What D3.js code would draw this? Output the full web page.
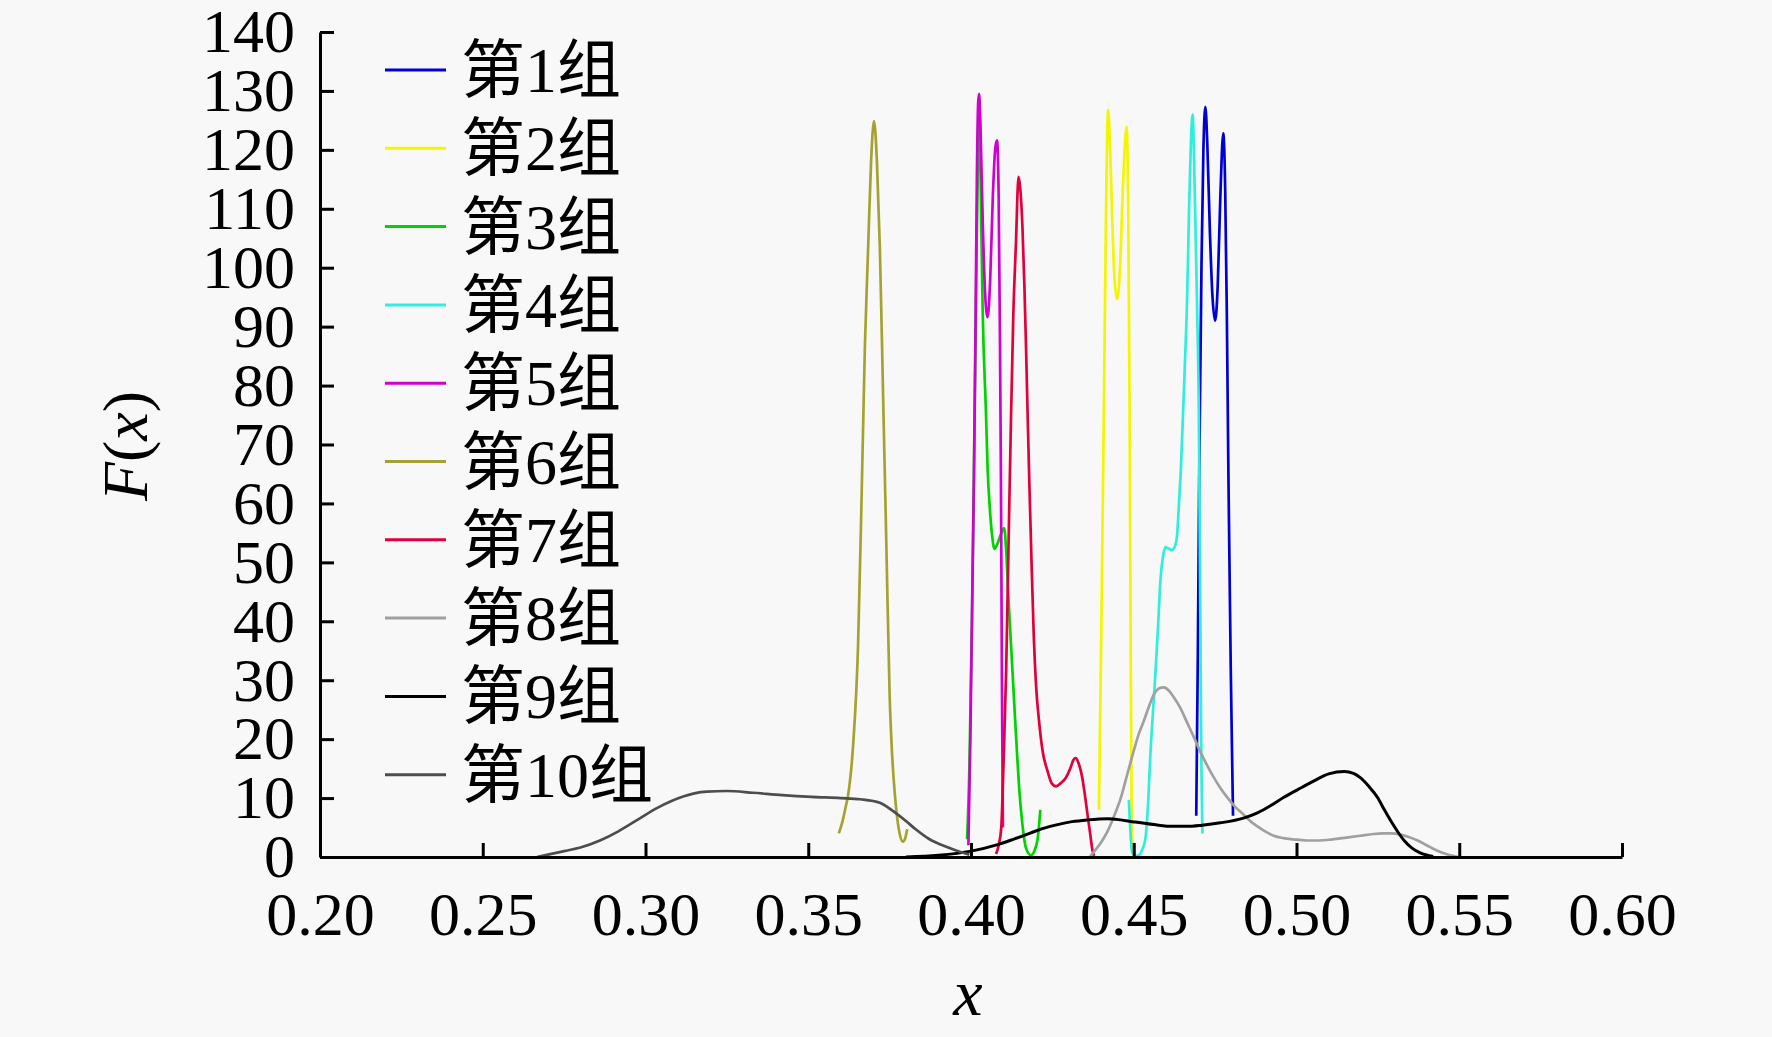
<!DOCTYPE html>
<html><head><meta charset="utf-8">
<script src="https://cdn.jsdelivr.net/npm/d3@7"></script>
<style>html,body{margin:0;padding:0;background:#f8f8f8;} svg{display:block;}</style>
</head><body>
<svg id="chart" width="1772" height="1037"></svg>
<script>
// ---- data ----
const seriesNames = ["第1组","第2组","第3组","第4组","第5组","第6组","第7组","第8组","第9组","第10组"];
const xTickValues = [0.20,0.25,0.30,0.35,0.40,0.45,0.50,0.55,0.60];
const yTickValues = [0,10,20,30,40,50,60,70,80,90,100,110,120,130,140];

const s1 = [[0.4692,7],[0.4697,35],[0.4701,64],[0.4708,100],[0.4714,120],[0.4720,127.3],[0.4726,121],[0.4734,106],[0.4742,95],[0.4750,91],[0.4758,97],[0.4766,112],[0.4775,122.8],[0.4781,113],[0.4786,92],[0.4791,64],[0.4798,32],[0.4805,7]];
const s2 = [[0.4393,8],[0.4400,37],[0.4408,75],[0.4415,110],[0.4421,126.8],[0.4427,121],[0.4434,108],[0.4441,98],[0.4449,94.7],[0.4457,99],[0.4467,114],[0.4478,123.9],[0.4483,110],[0.4487,78],[0.4490,42],[0.4493,12],[0.4496,1]];
const s3 = [[0.3988,3],[0.3995,15],[0.4003,40],[0.4010,70],[0.4017,102],[0.4022,120],[0.4026,126.5],[0.4031,109.5],[0.4036,92.4],[0.4046,75.4],[0.4051,66],[0.4058,59],[0.4065,54.5],[0.4072,52.3],[0.4080,53],[0.4090,54.5],[0.4102,55.8],[0.4108,52],[0.4115,44],[0.4124,35],[0.4133,25.9],[0.4141,18],[0.4148,11.7],[0.4158,5.5],[0.4169,1.5],[0.4184,0.3],[0.4196,1.2],[0.4205,3.2],[0.4213,8]];
const s4 = [[0.4485,9.7],[0.4490,4],[0.4495,0.8],[0.4505,0.2],[0.4515,0.3],[0.4528,1.5],[0.4536,3.2],[0.4544,9],[0.4551,17.4],[0.4559,24.5],[0.4567,31.6],[0.4575,39.5],[0.4582,47],[0.4590,51],[0.4597,52.6],[0.4608,52.3],[0.4618,52.1],[0.4627,52.8],[0.4633,54.5],[0.4639,60],[0.4645,66],[0.4656,82],[0.4664,95],[0.4670,110],[0.4676,122],[0.4681,126],[0.4687,114],[0.4694,95],[0.4700,75],[0.4705,37],[0.4708,15],[0.4711,4]];
const s5 = [[0.3992,2],[0.3998,20],[0.4004,45],[0.4009,64],[0.4014,90],[0.4018,115],[0.4022,128],[0.4025,129.5],[0.4029,124],[0.4036,108],[0.4043,96],[0.4051,91.6],[0.4059,98],[0.4067,112],[0.4075,120.5],[0.4080,121.6],[0.4085,112],[0.4089,88],[0.4092,64],[0.4095,30],[0.4098,5]];
const s6 = [[0.3594,4],[0.3605,6],[0.3615,8.5],[0.3623,10.7],[0.3638,19.1],[0.3653,35.9],[0.3664,61.3],[0.3674,86.6],[0.3684,103.4],[0.3693,118],[0.3702,124.9],[0.3711,118],[0.3720,103.4],[0.3730,78.1],[0.3740,52.8],[0.3750,27.5],[0.3758,17],[0.3766,10.7],[0.3781,3.9],[0.3791,2.6],[0.3798,3.2],[0.3804,4.7]];
const s7 = [[0.4077,0.5],[0.4085,2],[0.4093,5],[0.4100,16],[0.4108,31.6],[0.4115,52],[0.4122,72],[0.4130,92],[0.4138,104],[0.4146,115.4],[0.4152,113],[0.4158,107],[0.4164,97],[0.4169,86.7],[0.4174,75],[0.4179,64],[0.4186,50],[0.4193,37.3],[0.4200,29],[0.4209,23.1],[0.4220,18],[0.4235,14.6],[0.4248,12.5],[0.4261,12],[0.4275,12.5],[0.4291,13.4],[0.4305,15],[0.4315,16.5],[0.4322,16.8],[0.4330,16],[0.4342,13.4],[0.4350,10.5],[0.4358,7.2],[0.4366,4],[0.4373,1.2],[0.4378,0.2]];
const s8 = [[0.4365,0],[0.4378,0.9],[0.4400,2.5],[0.4419,4.3],[0.4440,7],[0.4460,10],[0.4480,14],[0.4500,18],[0.4515,20.8],[0.4531,23.1],[0.4547,25.6],[0.4562,27.6],[0.4577,28.6],[0.4592,28.8],[0.4607,28.3],[0.4623,27.1],[0.4643,25.3],[0.4664,22.8],[0.4685,20.3],[0.4705,17.8],[0.4725,15.6],[0.4745,13.6],[0.4765,11.8],[0.4786,10.2],[0.4810,8.6],[0.4837,7.2],[0.4860,6],[0.4880,5.2],[0.4905,4.3],[0.4930,3.6],[0.4960,3.2],[0.4990,3.0],[0.5030,2.8],[0.5071,2.8],[0.5110,3.0],[0.5153,3.3],[0.5195,3.6],[0.5236,3.9],[0.5265,4.0],[0.5290,4.0],[0.5320,3.8],[0.5345,3.4],[0.5372,2.8],[0.5400,2.0],[0.5428,1.2],[0.5455,0.6],[0.5480,0.2],[0.5496,0]];
const s9 = [[0.3800,0],[0.3900,0.3],[0.4000,1.0],[0.4082,2.1],[0.4130,3.0],[0.4184,4.1],[0.4225,4.9],[0.4266,5.5],[0.4310,6.0],[0.4358,6.3],[0.4420,6.5],[0.4460,6.3],[0.4496,6.0],[0.4562,5.5],[0.4620,5.2],[0.4664,5.2],[0.4710,5.4],[0.4766,5.8],[0.4837,6.6],[0.4880,7.5],[0.4920,8.7],[0.4960,10.1],[0.5016,11.8],[0.5060,13.1],[0.5099,14.1],[0.5147,14.5],[0.5175,14.2],[0.5195,13.5],[0.5222,12],[0.5249,10.1],[0.5270,8],[0.5290,6.1],[0.5312,4.2],[0.5332,2.7],[0.5355,1.5],[0.5380,0.7],[0.5420,0.1]];
const s10 = [[0.2667,0],[0.2700,0.4],[0.2750,1.0],[0.2800,1.6],[0.2860,2.8],[0.2918,4.4],[0.2975,6.3],[0.3035,8.3],[0.3080,9.5],[0.3118,10.3],[0.3150,10.8],[0.3188,11.1],[0.3250,11.2],[0.3330,10.9],[0.3420,10.5],[0.3510,10.2],[0.3600,10.0],[0.3660,9.8],[0.3720,9.2],[0.3765,7.6],[0.3800,6.1],[0.3830,4.7],[0.3870,3.1],[0.3930,1.6],[0.3970,0.8],[0.3995,0.4]];

const seriesData = [s1,s2,s3,s4,s5,s6,s7,s8,s9,s10];
const seriesColors = ["#0000d0","#f5f500","#00d400","#30eedc","#d000d0","#a6a232","#e0003c","#a0a0a0","#000000","#4d4d4d"];

// ---- layout ----
const svg = d3.select("#chart");
const W = 1772, H = 1037;
const x0 = 320, x1 = 1622, yBottom = 857, yTop = 32;
const FONT = "'Liberation Serif','Times New Roman','Noto Sans CJK SC',serif";

svg.append("rect").attr("width", W).attr("height", H).attr("fill", "#f8f8f8");

const x = d3.scaleLinear().domain([0.2, 0.6]).range([x0, x1]);
const y = d3.scaleLinear().domain([0, 140]).range([yBottom, yTop]);

// lines
const line = d3.line().x(d => x(d[0])).y(d => y(d[1])).curve(d3.curveMonotoneX);
const gLines = svg.append("g");
seriesData.forEach((s, i) => {
  gLines.append("path")
    .attr("d", line(s))
    .attr("fill", "none")
    .attr("stroke", seriesColors[i])
    .attr("stroke-width", i === 8 ? 3 : 2.7)
    .attr("stroke-linejoin", "round");
});

// axes
const xAxis = d3.axisBottom(x).tickValues(xTickValues).tickFormat(d3.format(".2f"))
  .tickSizeInner(-14).tickSizeOuter(0).tickPadding(34);
const yAxis = d3.axisLeft(y).tickValues(yTickValues).tickFormat(d3.format("d"))
  .tickSizeInner(-14).tickSizeOuter(0).tickPadding(25);

const gx = svg.append("g").attr("transform", `translate(0,${yBottom})`).call(xAxis);
const gy = svg.append("g").attr("transform", `translate(${x0},0)`).call(yAxis);
[gx, gy].forEach(g => {
  g.select(".domain").attr("stroke", "#000").attr("stroke-width", 3);
  g.selectAll(".tick line").attr("stroke", "#000").attr("stroke-width", 3);
  g.selectAll(".tick text").attr("fill", "#000").style("font-family", FONT).style("font-size", "62px");
});

// axis titles
svg.append("text")
  .attr("x", 968).attr("y", 1015)
  .attr("text-anchor", "middle")
  .style("font-family", FONT).style("font-size", "66px").style("font-style", "italic")
  .text("x");

const yt = svg.append("text")
  .attr("transform", "translate(147,446) rotate(-90)")
  .attr("text-anchor", "middle")
  .style("font-family", FONT).style("font-size", "64px");
yt.append("tspan").style("font-style", "italic").text("F");
yt.append("tspan").text("(");
yt.append("tspan").style("font-style", "italic").text("x");
yt.append("tspan").text(")");

// legend
const legend = svg.append("g");
seriesNames.forEach((name, i) => {
  const ly = 70 + i * 78.3;
  legend.append("line")
    .attr("x1", 385).attr("x2", 446).attr("y1", ly).attr("y2", ly)
    .attr("stroke", seriesColors[i]).attr("stroke-width", 3);
  legend.append("text")
    .attr("x", 461).attr("y", ly + 22)
    .style("font-family", FONT).style("font-size", "64px").attr("fill", "#000")
    .text(name);
});
</script>
</body></html>
